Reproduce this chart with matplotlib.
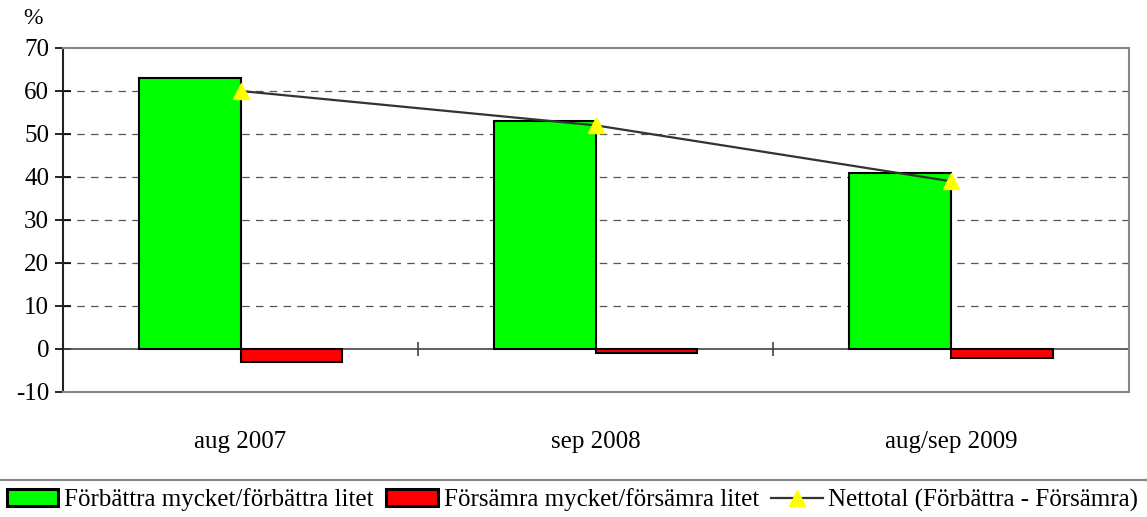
import matplotlib
matplotlib.use("Agg")
import matplotlib.pyplot as plt
from matplotlib.lines import Line2D
import numpy as np

categories = ["aug 2007", "sep 2008", "aug/sep 2009"]
forbattra = [63, 53, 41]
forsamra = [-3, -1, -2]
netto = [60, 52, 39]
yticks = [-10, 0, 10, 20, 30, 40, 50, 60, 70]

plt.rcParams['font.family'] = ['Liberation Serif', 'DejaVu Serif']

fig = plt.figure(figsize=(11.47, 5.17), dpi=100)
ax = fig.add_axes([0.0549, 0.2418, 0.984 - 0.0549, 0.9072 - 0.2418])

x = np.arange(len(categories))
w = 0.286
b1 = ax.bar(x - w / 2, forbattra, width=w, color='#00ff00', edgecolor='black', linewidth=1.5,
            label='Förbättra mycket/förbättra litet', zorder=3)
b2 = ax.bar(x + w / 2, forsamra, width=w, color='#ff0000', edgecolor='black', linewidth=1.5,
            label='Försämra mycket/försämra litet', zorder=3)
l1, = ax.plot(x, netto, color='#333333', linewidth=1.6, marker='^', markersize=12,
              markerfacecolor='#ffff00', markeredgecolor='#ffff00',
              label='Nettotal (Förbättra - Försämra)', zorder=4)

ax.set_xlim(-0.5, 2.5)
ax.set_ylim(-10, 70)
ax.set_yticks(yticks)
ax.set_yticklabels([str(v) for v in yticks], fontsize=18)
ax.tick_params(axis='y', direction='inout', length=12, width=1.2, pad=4)
for v in yticks[2:-1]:
    ax.axhline(v, color='#555555', linestyle=(0, (6, 5)), linewidth=0.9, zorder=1)
ax.axhline(0, color='#444444', linewidth=1.2, zorder=2)
ax.vlines([0.5, 1.5], -1.6, 1.6, color='#444444', linewidth=1.2, zorder=2)

ax.set_xticks(x)
ax.set_xticklabels(categories, fontsize=18)
ax.tick_params(axis='x', length=0, pad=28)

ax.spines['left'].set_color('#222222')
ax.spines['left'].set_linewidth(1.5)
for s in ['top', 'right', 'bottom']:
    ax.spines[s].set_color('#888888')
    ax.spines[s].set_linewidth(1.5)

fig.text(33 / 1147, 1 - 18 / 517, '%', fontsize=17, ha='center', va='center')

fig.add_artist(Line2D([0, 1], [1 - 480 / 517, 1 - 480 / 517], color='#888888', linewidth=1.5,
                      transform=fig.transFigure))

leg = fig.legend(handles=[b1, b2, l1], loc='center left', bbox_to_anchor=(0.0, 1 - 500 / 517), ncol=3,
                 frameon=False, fontsize=18, handlelength=2.05, handleheight=0.62,
                 handletextpad=0.24, columnspacing=0.5, borderaxespad=0, borderpad=0.28)
for h in leg.legend_handles[:2]:
    h.set_linewidth(2.2)

fig.savefig('out.png', dpi=100)
